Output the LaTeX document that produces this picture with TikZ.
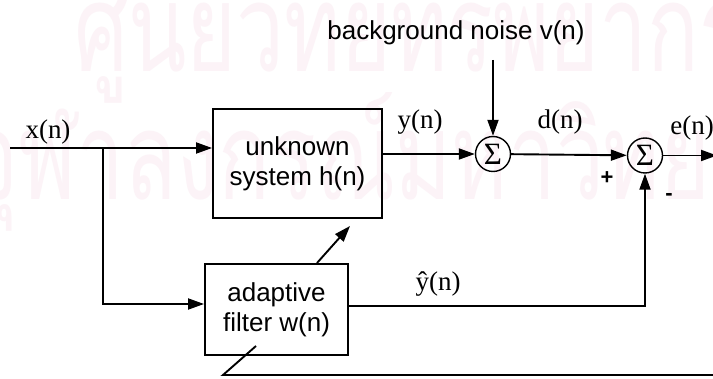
\documentclass[tikz,border=0pt]{standalone}
\usepackage{fontspec}
\setmainfont{Liberation Sans}
\newfontfamily\serifx{Liberation Serif}
\newfontfamily\thaifont[Script=Thai]{Loma}
\usetikzlibrary{arrows.meta}
\definecolor{wm}{RGB}{252,243,247}
\tikzset{
  line/.style={line width=1.9pt, line join=miter},
  conn/.style={line, -{Triangle[length=16pt,width=11pt]}},
  blockbox/.style={draw, line width=1.9pt, align=center, inner sep=0pt,
    font=\fontsize{26}{30}\selectfont},
  sumnode/.style={draw, circle, line width=1.4pt, minimum size=35pt, inner sep=0pt,
    font=\serifx\fontsize{31}{31}\selectfont},
  lab/.style={font=\serifx\fontsize{27}{30}\selectfont, inner sep=0pt},
  sign/.style={font=\bfseries\fontsize{22}{22}\selectfont, inner sep=0pt},
  wmark/.style={text=wm, font=\thaifont\fontsize{122}{122}\selectfont, inner sep=0pt, anchor=base west}
}
\begin{document}
\begin{tikzpicture}[x=1pt,y=-1pt]
\useasboundingbox (0,0) rectangle (713,379);
\fill[white] (0,0) rectangle (713,379);
% watermark
\node[wmark] (wm1) at (74,72) {\scalebox{0.70}[1]{ศูนย์วิทยทรัพยากร}};
\node[wmark] (wm2) at (-32,200) {\scalebox{0.70}[1]{จุฬาลงกรณ์มหาวิทยาลัย}};
% blocks
\node[blockbox, minimum width=169pt, minimum height=109pt] (unk) at (297.5,163.5) {unknown\\system h(n)};
\node[blockbox, minimum width=143pt, minimum height=91pt] (ada) at (276.5,309.5) {adaptive\\filter w(n)};
\node[sumnode] (s1) at (493,154) {Σ};
\node[sumnode] (s2) at (645,155.5) {Σ};
% labels
\node[lab] (xl) at (48,132) {x(n)};
\node[lab] (yl) at (420,122) {y(n)};
\node[lab] (dl) at (560,122) {d(n)};
\node[lab] (el) at (692,128) {e(n)};
\node[lab] (yhl) at (438,284) {ŷ(n)};
\node[font=\fontsize{26}{30}\selectfont, inner sep=0pt] (noise) at (456,33) {background noise v(n)};
\node[sign] (plus) at (607,178) {+};
\node[sign] (minus) at (669,197) {-};
% coordinates
\coordinate (in) at (10,148);
\coordinate (br) at (103,148);
\coordinate (brd) at (103,304);
\coordinate (nz) at (493,60);
\coordinate (out) at (717,155.5);
\coordinate (yh) at (645,306);
\coordinate (d1) at (317,263);
\coordinate (d2) at (350,226);
\coordinate (f1) at (256,346);
\coordinate (f2) at (223,375);
\coordinate (f3) at (717,375);
% connectors
\draw[conn] (in) -- (in -| unk.west);
\draw[conn] (br) -- (brd) -- (brd -| ada.west);
\draw[conn] (unk.east |- s1) -- (s1);
\draw[conn] (nz) -- (s1);
\draw[conn] (s1) -- (s2);
\draw[conn] (s2) -- (out);
\draw[conn] (ada.east |- yh) -- (yh) -- (s2);
\draw[conn] (d1) -- (d2);
\draw[line] (f1) -- (f2) -- (f3);
\end{tikzpicture}
\end{document}
